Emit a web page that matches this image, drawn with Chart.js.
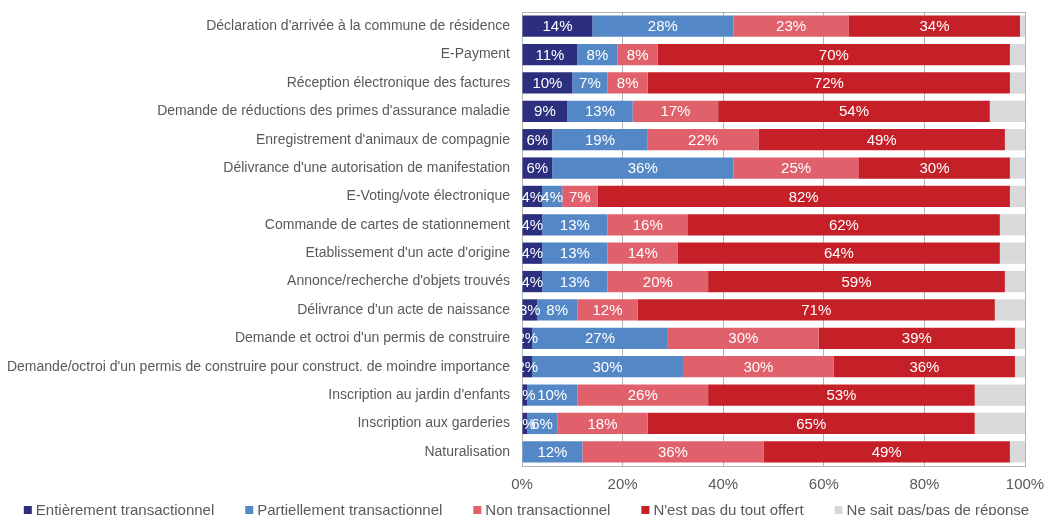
<!DOCTYPE html>
<html>
<head>
<meta charset="utf-8">
<script src="https://cdn.jsdelivr.net/npm/chart.js@4"></script>
<style>
  html, body { margin: 0; padding: 0; background: #fff; }
  #wrap { width: 1045px; height: 515px; }
</style>
</head>
<body>
<div id="wrap"><canvas id="chart"></canvas></div>
<script>
const categories = [
    "Déclaration d'arrivée à la commune de résidence",
    "E-Payment",
    "Réception électronique des factures",
    "Demande de réductions des primes d'assurance maladie",
    "Enregistrement d'animaux de compagnie",
    "Délivrance d'une autorisation de manifestation",
    "E-Voting/vote électronique",
    "Commande de cartes de stationnement",
    "Etablissement d'un acte d'origine",
    "Annonce/recherche d'objets trouvés",
    "Délivrance d'un acte de naissance",
    "Demande et octroi d'un permis de construire",
    "Demande/octroi d'un permis de construire pour construct. de moindre importance",
    "Inscription au jardin d'enfants",
    "Inscription aux garderies",
    "Naturalisation"
];

const seriesNames = [
    "Entièrement transactionnel",
    "Partiellement transactionnel",
    "Non transactionnel",
    "N'est pas du tout offert",
    "Ne sait pas/pas de réponse"
];

const entierement   = [14, 11, 10, 9, 6, 6, 4, 4, 4, 4, 3, 2, 2, 1, 1, 0];
const partiellement = [28, 8, 7, 13, 19, 36, 4, 13, 13, 13, 8, 27, 30, 10, 6, 12];
const nonTrans      = [23, 8, 8, 17, 22, 25, 7, 16, 14, 20, 12, 30, 30, 26, 18, 36];
const pasOffert     = [34, 70, 72, 54, 49, 30, 82, 62, 64, 59, 71, 39, 36, 53, 65, 49];
const neSaitPas     = [1, 3, 3, 7, 4, 3, 3, 5, 5, 4, 6, 2, 2, 10, 10, 3];

const xTicks = [0, 20, 40, 60, 80, 100];

const colors = ["#2b2f7e", "#5487c6", "#e0616b", "#c51f28", "#d9d9db"];
const textGray = "#595959";
const lineGray = "#b4b4b4";
const fontFamily = "'Liberation Sans', Arial, Helvetica, sans-serif";

// white percentage labels inside the coloured segments (not the grey one)
const segmentLabels = {
    id: "segmentLabels",
    afterDatasetsDraw(chart) {
        let ctx = chart.ctx;
        ctx.save();
        ctx.font = "15px " + fontFamily;
        ctx.fillStyle = "#ffffff";
        ctx.textAlign = "center";
        ctx.textBaseline = "middle";
        chart.data.datasets.forEach((ds, i) => {
            if (i > 3) return;
            chart.getDatasetMeta(i).data.forEach((bar, j) => {
                let v = ds.data[j];
                if (!v) return;
                ctx.fillText(Math.round(v) + "%", (bar.x + bar.base) / 2, bar.y + 1);
            });
        });
        ctx.restore();
    }
};

// top border of the plot area
const frame = {
    id: "frame",
    beforeDatasetsDraw(chart) {
        let a = chart.chartArea;
        let ctx = chart.ctx;
        ctx.save();
        ctx.strokeStyle = lineGray;
        ctx.lineWidth = 1;
        ctx.beginPath();
        ctx.moveTo(a.left, a.top + 0.5);
        ctx.lineTo(a.right, a.top + 0.5);
        ctx.stroke();
        ctx.restore();
    }
};

// single-row legend under the axis
const bottomLegend = {
    id: "bottomLegend",
    afterDraw(chart) {
        let ctx = chart.ctx;
        ctx.save();
        ctx.font = "15px " + fontFamily;
        ctx.textBaseline = "middle";
        ctx.textAlign = "left";
        let boxW = 8, boxH = 8, gap = 4, spacing = 31;
        let widths = seriesNames.map(n => boxW + gap + ctx.measureText(n).width);
        let total = widths.reduce((a, b) => a + b, 0) + spacing * (widths.length - 1);
        let x = (chart.width - total) / 2 + 4;
        let y = 510;
        seriesNames.forEach((n, i) => {
            ctx.fillStyle = colors[i];
            ctx.fillRect(x, y - boxH / 2, boxW, boxH);
            ctx.fillStyle = textGray;
            ctx.fillText(n, x + boxW + gap, y + 1);
            x += widths[i] + spacing;
        });
        ctx.restore();
    }
};

const allSeries = [entierement, partiellement, nonTrans, pasOffert, neSaitPas];

new Chart(document.getElementById("chart"), {
    type: "bar",
    data: {
        labels: categories,
        datasets: allSeries.map((d, i) => ({
            label: seriesNames[i],
            data: d,
            backgroundColor: colors[i],
            borderWidth: 0,
            barPercentage: 0.75,
            categoryPercentage: 1
        }))
    },
    options: {
        indexAxis: "y",
        responsive: true,
        maintainAspectRatio: false,
        animation: false,
        layout: { padding: { top: 12, right: 20, bottom: 11, left: 0 } },
        plugins: {
            legend: { display: false },
            tooltip: { enabled: false }
        },
        scales: {
            x: {
                stacked: true,
                min: 0,
                max: 100,
                afterBuildTicks: s => { s.ticks = xTicks.map(v => ({ value: v })); },
                afterFit: s => { s.paddingLeft = 0; s.paddingRight = 0; },
                grid: { color: lineGray, drawTicks: false },
                border: { color: lineGray },
                ticks: {
                    padding: 10,
                    color: textGray,
                    font: { family: fontFamily, size: 15 },
                    callback: v => v + "%"
                }
            },
            y: {
                stacked: true,
                afterFit: s => { s.width = 522; s.paddingTop = 0; s.paddingBottom = 0; },
                grid: { display: false, drawTicks: false },
                border: { color: lineGray },
                ticks: {
                    padding: 12,
                    color: textGray,
                    font: { family: fontFamily, size: 14 }
                }
            }
        }
    },
    plugins: [segmentLabels, frame, bottomLegend]
});
</script>
</body>
</html>
